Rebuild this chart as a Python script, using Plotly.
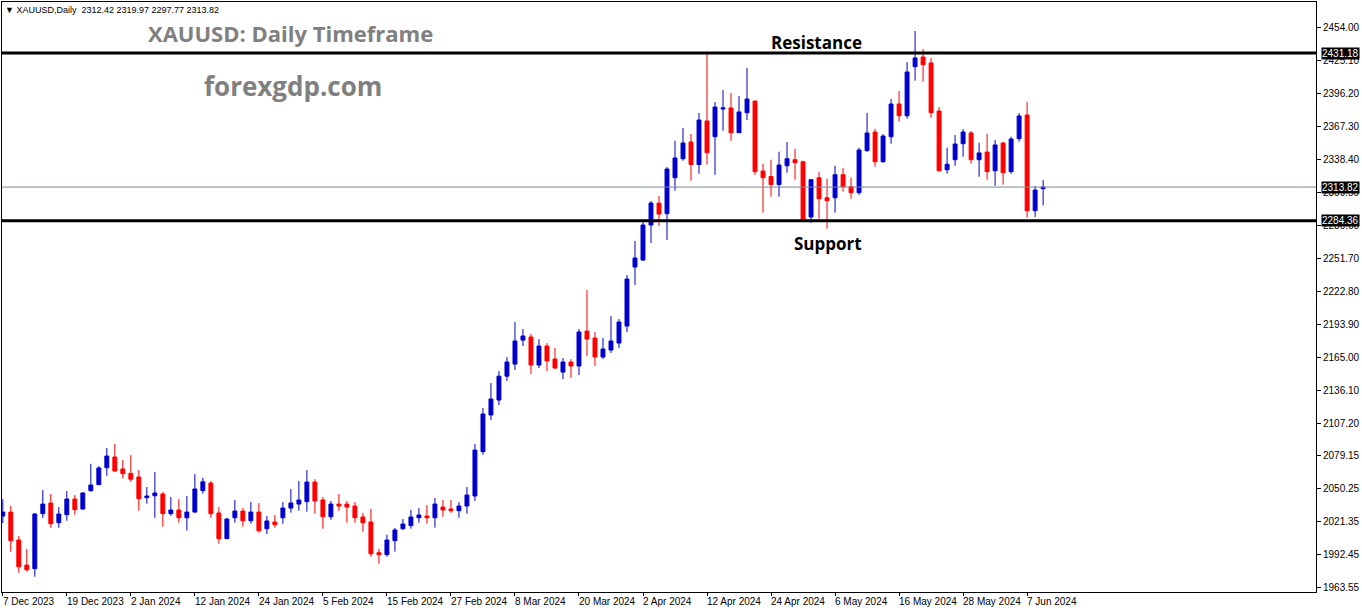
import plotly.graph_objects as go

# daily XAUUSD candles, 7 Dec 2023 .. 11 Jun 2024
opens = [2025.7, 2029.2, 2004.7, 1982.8, 1979.6, 2027.8, 2037.1, 2019.9, 2026.9, 2040.6,
         2031.9, 2047.9, 2053.2, 2068.0, 2077.4, 2066.9, 2063.0, 2059.9, 2041.8, 2043.5,
         2045.0, 2027.8, 2031.0, 2024.2, 2029.2, 2048.0, 2054.6, 2028.4, 2005.9, 2024.2,
         2030.1, 2021.6, 2029.2, 2014.6, 2020.5, 2024.2, 2032.7, 2036.2, 2038.3, 2055.5,
         2039.8, 2025.1, 2036.2, 2036.2, 2034.5, 2024.9, 2020.5, 1993.6, 1991.9, 2004.1,
         2014.6, 2017.3, 2024.2, 2025.7, 2024.2, 2033.6, 2031.9, 2030.4, 2034.5, 2043.3,
         2082.1, 2114.2, 2127.3, 2148.2, 2158.8, 2179.8, 2182.5, 2158.0, 2174.6, 2163.2,
         2151.8, 2160.6, 2157.1, 2187.7, 2181.6, 2165.0, 2171.1, 2177.2, 2192.1, 2243.8,
         2249.9, 2280.6, 2299.8, 2290.5, 2322.0, 2338.6, 2353.3, 2333.6, 2371.7, 2357.9,
         2382.2, 2383.1, 2361.4, 2378.9, 2389.2, 2327.9, 2323.1, 2316.0, 2332.5, 2337.8,
         2336.0, 2287.6, 2322.0, 2304.5, 2304.5, 2324.6, 2314.1, 2308.9, 2345.7, 2362.0,
         2336.0, 2357.9, 2386.6, 2376.3, 2419.2, 2427.7, 2422.5, 2380.4, 2329.0, 2337.8,
         2351.8, 2361.2, 2337.8, 2344.5, 2328.1, 2352.4, 2327.3, 2356.2, 2376.9, 2293.1,
         2312.42]
highs = [2040.6, 2034.5, 2008.2, 1996.8, 2028.4, 2048.5, 2045.0, 2033.6, 2047.6, 2044.1,
         2046.8, 2071.5, 2069.5, 2085.3, 2088.8, 2074.8, 2079.1, 2066.0, 2051.1, 2064.3,
         2046.8, 2042.4, 2040.6, 2043.3, 2062.5, 2059.2, 2056.4, 2033.6, 2024.0, 2039.8,
         2032.7, 2038.0, 2037.1, 2025.7, 2026.6, 2038.0, 2049.4, 2056.4, 2066.0, 2058.1,
         2042.4, 2038.9, 2045.0, 2038.9, 2038.0, 2028.4, 2031.9, 1997.1, 2009.4, 2015.3,
         2023.1, 2031.0, 2032.7, 2035.4, 2041.5, 2039.8, 2039.8, 2038.0, 2051.1, 2088.8,
         2120.3, 2142.2, 2152.6, 2164.9, 2195.6, 2189.5, 2185.1, 2180.7, 2177.2, 2172.9,
         2164.1, 2163.2, 2189.5, 2223.7, 2186.9, 2181.6, 2200.8, 2198.3, 2236.8, 2266.6,
         2283.2, 2301.6, 2306.0, 2331.4, 2354.4, 2365.6, 2360.3, 2378.7, 2430.9, 2388.3,
         2398.8, 2396.2, 2393.6, 2418.1, 2389.2, 2334.3, 2337.8, 2344.8, 2353.3, 2347.4,
         2336.9, 2320.3, 2327.3, 2321.1, 2332.5, 2330.7, 2322.0, 2348.3, 2378.7, 2364.9,
         2360.3, 2390.9, 2397.9, 2423.3, 2450.5, 2434.7, 2426.9, 2383.9, 2348.3, 2359.4,
         2364.6, 2362.9, 2352.7, 2360.3, 2355.0, 2353.3, 2357.9, 2378.7, 2388.3, 2314.7,
         2319.97]
lows = [2019.6, 1994.5, 1976.1, 1976.8, 1972.6, 2024.2, 2015.5, 2015.5, 2021.6, 2026.9,
        2031.3, 2047.0, 2053.2, 2061.0, 2064.3, 2058.6, 2055.6, 2030.4, 2036.5, 2024.2,
        2016.4, 2026.0, 2019.9, 2013.1, 2028.6, 2045.3, 2024.2, 2001.5, 2005.9, 2019.9,
        2016.4, 2019.0, 2011.1, 2009.9, 2015.5, 2019.0, 2028.6, 2030.4, 2029.5, 2027.8,
        2014.6, 2022.5, 2030.4, 2019.9, 2019.9, 2012.0, 1990.1, 1984.0, 1990.1, 1994.5,
        2013.5, 2014.6, 2019.9, 2019.0, 2015.5, 2025.1, 2028.6, 2024.2, 2027.8, 2038.9,
        2079.4, 2109.8, 2122.9, 2144.0, 2153.6, 2174.6, 2150.1, 2155.3, 2152.7, 2154.5,
        2145.7, 2146.6, 2149.2, 2165.8, 2157.1, 2163.2, 2168.5, 2172.9, 2186.9, 2228.0,
        2249.1, 2264.8, 2279.7, 2267.5, 2310.6, 2336.9, 2319.4, 2325.5, 2333.6, 2324.6,
        2363.2, 2354.4, 2361.4, 2372.5, 2324.6, 2291.4, 2305.4, 2305.4, 2326.4, 2320.3,
        2285.0, 2282.4, 2286.1, 2277.4, 2291.4, 2309.8, 2303.6, 2307.1, 2344.8, 2331.6,
        2335.2, 2351.8, 2371.1, 2373.7, 2407.0, 2406.1, 2374.6, 2327.3, 2325.5, 2332.5,
        2340.4, 2334.3, 2322.9, 2320.3, 2315.0, 2315.9, 2325.5, 2353.6, 2287.0, 2287.6,
        2297.77]
closes = [2029.2, 2004.1, 1981.3, 1978.7, 2027.5, 2036.2, 2019.0, 2027.5, 2040.6, 2031.3,
          2045.9, 2052.9, 2067.8, 2078.3, 2065.2, 2062.8, 2058.0, 2040.9, 2043.3, 2045.9,
          2027.8, 2031.0, 2024.2, 2029.2, 2049.4, 2055.7, 2027.8, 2005.9, 2023.1, 2030.1,
          2021.6, 2029.2, 2012.9, 2021.4, 2018.1, 2032.7, 2037.1, 2039.8, 2055.5, 2038.9,
          2025.1, 2036.2, 2034.5, 2033.6, 2024.2, 2019.9, 1992.7, 1991.9, 2004.7, 2013.5,
          2018.7, 2024.9, 2026.6, 2024.2, 2036.2, 2031.0, 2030.4, 2034.5, 2044.1, 2083.5,
          2115.1, 2128.2, 2148.2, 2160.6, 2179.0, 2183.4, 2158.0, 2174.6, 2161.5, 2155.3,
          2160.6, 2157.1, 2186.9, 2180.7, 2165.0, 2172.0, 2179.0, 2195.6, 2233.3, 2251.7,
          2280.6, 2299.8, 2290.2, 2329.6, 2339.3, 2352.4, 2333.6, 2372.5, 2343.9, 2383.9,
          2383.1, 2361.4, 2379.6, 2390.9, 2327.3, 2322.0, 2316.0, 2333.1, 2338.6, 2335.2,
          2285.0, 2320.3, 2303.6, 2301.9, 2324.6, 2314.1, 2308.9, 2346.3, 2361.2, 2336.0,
          2358.5, 2386.6, 2376.3, 2414.6, 2426.9, 2421.0, 2378.9, 2328.1, 2333.8, 2351.5,
          2362.0, 2337.8, 2343.7, 2327.3, 2350.7, 2326.4, 2355.9, 2376.1, 2293.1, 2311.2,
          2313.82]

# date labels (bar index -> text)
date_pos = [0, 8, 16, 24, 32, 40, 48, 56, 64, 72, 80, 88, 96, 104, 112, 120, 128]
date_labels = ['7 Dec 2023', '19 Dec 2023', '2 Jan 2024', '12 Jan 2024', '24 Jan 2024',
               '5 Feb 2024', '15 Feb 2024', '27 Feb 2024', '8 Mar 2024', '20 Mar 2024',
               '2 Apr 2024', '12 Apr 2024', '24 Apr 2024', '6 May 2024', '16 May 2024',
               '28 May 2024', '7 Jun 2024']

price_ticks = [2454.00, 2425.10, 2396.20, 2367.30, 2338.40, 2309.50, 2280.60, 2251.70,
               2222.80, 2193.90, 2165.00, 2136.10, 2107.20, 2079.15, 2050.25, 2021.35,
               1992.45, 1963.55]

resistance = 2431.18
support = 2284.36
last_price = 2313.82

idx = list(range(len(opens)))

W, H = 1362, 611
ml, mr, mt, mb = 2, 46, 2, 19
pw, ph = W - ml - mr, H - mt - mb

fig = go.Figure()
fig.add_trace(go.Candlestick(
    x=idx, open=opens, high=highs, low=lows, close=closes,
    increasing=dict(line=dict(color='#0000cc', width=1), fillcolor='#0000cc'),
    decreasing=dict(line=dict(color='#ff0000', width=1), fillcolor='#ff0000'),
    whiskerwidth=0, showlegend=False, hoverinfo='skip'))

# horizontal levels
fig.add_hline(y=last_price, line=dict(color='#778899', width=1))
fig.add_hline(y=resistance, line=dict(color='black', width=3))
fig.add_hline(y=support, line=dict(color='black', width=3))

lab_font = dict(family='Liberation Sans', size=10, color='black')

ann = []
for p, t in zip(date_pos, date_labels):
    ann.append(dict(x=p, y=0, xref='x', yref='paper', text=t, showarrow=False,
                    xanchor='left', yanchor='top', yshift=-2, xshift=-2, font=lab_font))
for v in [resistance, last_price, support]:
    ann.append(dict(x=1, y=v, xref='paper', yref='y', text='%.2f' % v, showarrow=False,
                    xanchor='left', yanchor='middle', xshift=5, bgcolor='black',
                    borderpad=0, font=dict(family='Liberation Sans', size=10, color='white')))

def px(x):
    return (x - ml) / pw

def py(y):
    return 1 - (y - mt) / ph

ann += [
    dict(x=px(3), y=py(3), xref='paper', yref='paper', xanchor='left', yanchor='top',
         text='▼ XAUUSD,Daily  2312.42 2319.97 2297.77 2313.82', showarrow=False,
         font=dict(family='Liberation Sans', size=9, color='black')),
]
for t, x, y, size, col in [('XAUUSD: Daily Timeframe', 290, 33, 22, '#808080'),
                           ('forexgdp.com', 293, 86, 26, '#808080'),
                           ('Resistance', 816, 42, 17, 'black'),
                           ('Support', 828, 244, 17, 'black')]:
    ann.append(dict(x=px(x), y=py(y), xref='paper', yref='paper', text='<b>%s</b>' % t,
                    xanchor='center', yanchor='middle', showarrow=False,
                    font=dict(family='Open Sans', size=size, color=col)))

fig.update_layout(
    width=W, height=H, margin=dict(l=ml, r=mr, t=mt, b=mb, autoexpand=False),
    paper_bgcolor='white', plot_bgcolor='white', annotations=ann,
    xaxis=dict(range=[-0.1, 164.1], rangeslider=dict(visible=False), showgrid=False,
               zeroline=False, tickvals=date_pos, showticklabels=False, ticks='outside',
               ticklen=3, tickcolor='black', showline=True, linecolor='black', mirror=True,
               automargin=False),
    yaxis=dict(range=[1959.2, 2475.9], side='right', showgrid=False, zeroline=False,
               tickvals=price_ticks, ticktext=['%.2f' % v for v in price_ticks],
               ticks='outside', ticklen=4, tickcolor='black', tickfont=lab_font,
               showline=True, linecolor='black', mirror=True, automargin=False),
)

fig.write_html('out.html', config={'displayModeBar': False},
               post_script="document.body.style.margin='0';")
